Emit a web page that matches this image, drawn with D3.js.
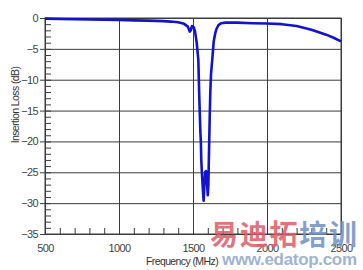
<!DOCTYPE html>
<html>
<head>
<meta charset="utf-8">
<script src="https://d3js.org/d3.v7.min.js"></script>
<style>
  body { margin: 0; background: #fff; }
  svg { display: block; }
</style>
</head>
<body>
<div id="chart"></div>
<script>
// data
var freq = [500, 600, 700, 800, 900, 1000, 1100, 1200, 1300, 1350, 1400, 1440, 1465, 1478, 1485, 1493, 1505, 1514,
    1525, 1536, 1543, 1548, 1550, 1553, 1556, 1560, 1566, 1572, 1577, 1582, 1588, 1594, 1600, 1604, 1607, 1613,
    1617, 1622, 1630, 1640, 1650, 1660, 1672, 1690, 1720, 1800, 1900, 2000, 2100, 2200, 2300, 2400, 2450, 2500];
var loss = [-0.1, -0.15, -0.2, -0.25, -0.28, -0.3, -0.38, -0.43, -0.5, -0.58, -0.7, -0.95, -1.4, -2.2, -2.0, -1.3, -1.5, -2.2,
    -4.0, -6.8, -13.3, -17, -18.6, -20, -23, -25, -27.5, -29.6, -27, -25, -24.8, -26.5, -28.7, -27, -23, -16,
    -12, -9, -6.8, -3.8, -2.5, -1.7, -1.15, -0.85, -0.75, -0.75, -0.85, -0.9, -1.0, -1.3, -1.9, -2.7, -3.2, -3.8];

var xTicks = [500, 1000, 1500, 2000, 2500];
var yTicks = [0, -5, -10, -15, -20, -25, -30, -35];
var xMinor = d3.range(500, 2501, 100);
var yMinor = d3.range(0, -36, -1);

var svgWidth = 363;
var svgHeight = 270;
var margin = { top: 18, right: 22, bottom: 36, left: 45 };
var width = svgWidth - margin.left - margin.right;
var height = svgHeight - margin.top - margin.bottom;

var svg = d3.select("#chart")
    .append("svg")
    .attr("width", svgWidth)
    .attr("height", svgHeight);

var chartGroup = svg.append("g")
    .attr("transform", `translate(${margin.left}, ${margin.top})`);

var xScale = d3.scaleLinear().domain([500, 2500]).range([0, width]);
var yScale = d3.scaleLinear().domain([-35, 0]).range([height, 0]);

var gridColor = "#3c3c3c";
var labelFont = "Liberation Sans, Arial, sans-serif";

// vertical grid lines
chartGroup.append("g")
    .call(d3.axisBottom(xScale).tickValues(xTicks).tickSize(height).tickFormat(""))
    .call(g => g.select(".domain").remove())
    .selectAll("line").attr("stroke", gridColor);

// horizontal grid lines
chartGroup.append("g")
    .call(d3.axisRight(yScale).tickValues(yTicks).tickSize(width).tickFormat(""))
    .call(g => g.select(".domain").remove())
    .selectAll("line").attr("stroke", gridColor);

// minor ticks, inside the plot
chartGroup.append("g")
    .attr("transform", `translate(0, ${height})`)
    .call(d3.axisBottom(xScale).tickValues(xMinor).tickSize(-6).tickFormat(""))
    .call(g => g.select(".domain").remove())
    .selectAll("line").attr("stroke", gridColor);

chartGroup.append("g")
    .call(d3.axisLeft(yScale).tickValues(yMinor).tickSize(-6).tickFormat(""))
    .call(g => g.select(".domain").remove())
    .selectAll("line").attr("stroke", gridColor);

// y axis labels + short outer ticks
var yAxis = chartGroup.append("g")
    .call(d3.axisLeft(yScale).tickValues(yTicks).tickSize(5).tickPadding(2));
yAxis.select(".domain").remove();
yAxis.selectAll("line").attr("stroke", gridColor);
yAxis.selectAll("text")
    .attr("fill", "#444")
    .style("font-family", labelFont)
    .style("font-size", "11px")
    .style("letter-spacing", "-0.6px");

// x axis labels
var xAxis = chartGroup.append("g")
    .attr("transform", `translate(0, ${height})`)
    .call(d3.axisBottom(xScale).tickValues(xTicks).tickSize(0).tickPadding(10).tickFormat(d3.format("d")));
xAxis.select(".domain").remove();
xAxis.selectAll("text")
    .attr("fill", "#444")
    .style("font-family", labelFont)
    .style("font-size", "11px")
    .style("letter-spacing", "-0.6px");

// frame
chartGroup.append("rect")
    .attr("width", width)
    .attr("height", height)
    .attr("fill", "none")
    .attr("stroke", gridColor);

// the curve
var line = d3.line()
    .x((d, i) => xScale(freq[i]))
    .y(d => yScale(d));

chartGroup.append("path")
    .datum(loss)
    .attr("d", line)
    .attr("fill", "none")
    .attr("stroke", "#1212cf")
    .attr("stroke-width", 2.6)
    .attr("stroke-linejoin", "round");

// axis titles
svg.append("text")
    .attr("x", 182)
    .attr("y", 265)
    .attr("text-anchor", "middle")
    .attr("fill", "#333")
    .style("font-family", labelFont)
    .style("font-size", "10.5px")
    .style("letter-spacing", "-0.6px")
    .text("Frequency (MHz)");

svg.append("text")
    .attr("transform", "translate(19, 105) rotate(-90)")
    .attr("text-anchor", "middle")
    .attr("fill", "#333")
    .style("font-family", labelFont)
    .style("font-size", "10.5px")
    .style("letter-spacing", "-0.6px")
    .text("Insertion Loss (dB)");

// watermark
var wm = svg.append("text")
    .attr("x", 210)
    .attr("y", 245)
    .attr("textLength", 147)
    .style("font-family", "Noto Sans CJK SC, sans-serif")
    .style("font-weight", "bold")
    .style("font-size", "28px");
wm.append("tspan").attr("fill", "#e05a66").attr("fill-opacity", 0.85).text("易迪拓");
wm.append("tspan").attr("fill", "#6f8fc4").attr("fill-opacity", 0.85).text("培训");

svg.append("text")
    .attr("x", 222)
    .attr("y", 265)
    .attr("textLength", 135)
    .attr("fill", "#9fb3d3")
    .style("font-family", "Liberation Sans, Arial, sans-serif")
    .style("font-weight", "bold")
    .style("font-size", "17px")
    .text("www.edatop.com");
</script>
</body>
</html>
